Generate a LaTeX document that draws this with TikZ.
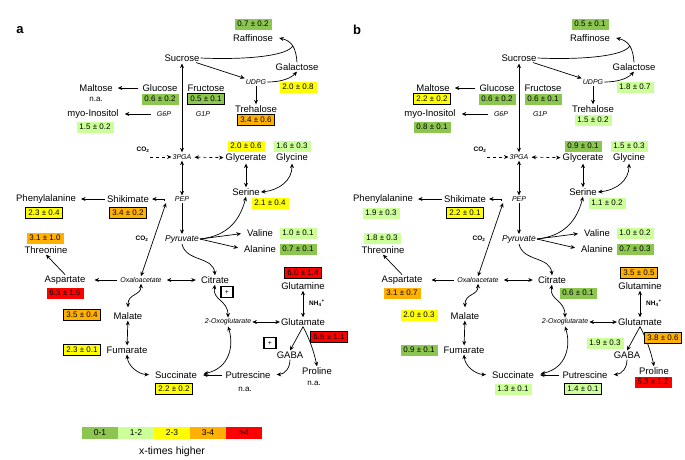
\documentclass[tikz,border=0pt]{standalone}
\usepackage{fontspec}
\setmainfont{Liberation Sans}
\usetikzlibrary{arrows.meta}
\definecolor{cA}{RGB}{140,198,80}
\definecolor{cB}{RGB}{204,255,153}
\definecolor{cC}{RGB}{255,255,0}
\definecolor{cD}{RGB}{255,176,0}
\definecolor{cE}{RGB}{255,0,0}
\tikzset{
 met/.style={font=\fontsize{9.5}{10}\selectfont, inner sep=1pt},
 inter/.style={font=\fontsize{7}{8}\selectfont\itshape, inner sep=1pt},
 pyrs/.style={font=\fontsize{8.5}{9}\selectfont\itshape, inner sep=1pt},
 smb/.style={font=\fontsize{6.5}{7}\selectfont\bfseries, inner sep=0.5pt},
 nalab/.style={font=\fontsize{8}{9}\selectfont, inner sep=1pt},
 val/.style={font=\fontsize{8}{9}\selectfont, fill=#1, minimum width=37pt, minimum height=11pt, inner sep=0pt},
 valb/.style={val=#1, draw=black, line width=1.9pt, minimum width=37pt, minimum height=11pt},
 plusbox/.style={draw, line width=1.7pt, minimum width=12pt, minimum height=11pt, inner sep=0pt, font=\fontsize{7}{8}\selectfont},
 legbox/.style={fill=#1, minimum width=36pt, minimum height=12pt, inner sep=0pt, font=\fontsize{8.5}{9}\selectfont},
 ar/.style={-{Stealth[length=4.5pt,width=4pt]}, line width=0.7pt},
 dar/.style={{Stealth[length=4.5pt,width=4pt]}-{Stealth[length=4.5pt,width=4pt]}, line width=0.7pt},
 panlab/.style={font=\fontsize{13}{14}\selectfont\bfseries, inner sep=0pt},
}
\newcommand\mypanel{%
 \node[met] (suc) at (182,58) {Sucrose};
 \node[met] (raf) at (253,38) {Raffinose};
 \node[met] (gal) at (297,67) {Galactose};
 \node[inter] (udpg) at (256,82) {UDPG};
 \node[met] (glc) at (160,88) {Glucose};
 \node[met] (fru) at (206,88) {Fructose};
 \node[met] (mal) at (96,88) {Maltose};
 \node[met] (myo) at (93,114) {myo-Inositol};
 \node[inter] (g6p) at (164,114) {G6P};
 \node[inter] (g1p) at (203,114) {G1P};
 \node[met] (tre) at (256,109) {Trehalose};
 \node[inter] (pga) at (182,157) {3PGA};
 \node[smb] (co2a) at (143,150) {CO\textsubscript{2}};
 \node[met] (glyc) at (246,158) {Glycerate};
 \node[met] (gly) at (292,158) {Glycine};
 \node[met] (ser) at (246,192) {Serine};
 \node[inter] (pep) at (182,199) {PEP};
 \node[met] (shik) at (128,199) {Shikimate};
 \node[met] (phe) at (46,199) {Phenylalanine};
 \node[pyrs] (pyr) at (182,239) {Pyruvate};
 \node[smb] (co2b) at (142,239) {CO\textsubscript{2}};
 \node[met] (val) at (260,233) {Valine};
 \node[met] (ala) at (260,249) {Alanine};
 \node[met] (thr) at (46,250) {Threonine};
 \node[met] (asp) at (65,280) {Aspartate};
 \node[inter] (oaa) at (141,280) {Oxaloacetate};
 \node[met] (cit) at (215,280) {Citrate};
 \node[met] (gln) at (303,286) {Glutamine};
 \node[inter] (oxo) at (228,322) {2-Oxoglutarate};
 \node[met] (glu) at (303,322) {Glutamate};
 \node[smb] (nh4) at (317,303) {NH\textsubscript{4}\textsuperscript{+}};
 \node[met] (malat) at (128,316) {Malate};
 \node[met] (fum) at (127,350) {Fumarate};
 \node[met] (gaba) at (290,355) {GABA};
 \node[met] (pro) at (317,371) {Proline};
 \node[met] (put) at (248,375) {Putrescine};
 \node[met] (succ) at (176,375) {Succinate};
 \coordinate (hk) at (166,203);
 \coordinate (hs) at (164,201);
 \coordinate (mg) at (292.7,45.8);
 %
 \draw[dar,shorten <=1pt,shorten >=1pt] (suc) -- (pga);
 \draw[ar] (suc) -- (udpg);
 \draw[line width=0.7pt] (suc.east) .. controls (245,60) and (288,56) .. (mg);
 \draw[ar] (gal.north) .. controls (296,48) and (292,41) .. ([xshift=5pt]raf.east);
 \draw[ar] (udpg.east) .. controls (280,82) and (290,79) .. (gal.south);
 \draw[ar] (udpg) -- (tre);
 \draw[ar,shorten <=3pt,shorten >=4pt] (glc) -- (mal);
 \draw[ar,shorten <=5pt,shorten >=5pt] (g6p) -- (myo);
 \draw[ar,dashed] (co2a.south east |- pga) -- (pga.west);
 \draw[dar,dashed,shorten <=2pt,shorten >=1pt] (pga) -- (glyc);
 \draw[dar] (glyc) -- (ser);
 \draw[dar] (gly.south) .. controls (292,180) and (280,190) .. (ser.east);
 \draw[dar] (pga) -- (pep);
 \draw[ar] (pep) -- (pyr);
 \draw[dar] (oaa.north) -- (hk);
 \draw[ar] (hs) |- ([xshift=2pt]shik.east);
 \draw[ar,shorten <=1pt,shorten >=4pt] (shik) -- (phe);
 \draw[ar,shorten >=5pt] (pyr.east) -- (val.west);
 \draw[ar,shorten >=5pt] (pyr.east) -- (ala.west);
 \draw[ar] (pyr.east) .. controls (228,236) and (240,220) .. (ser.south);
 \draw[ar] (pyr.south) .. controls (186,262) and (213,256) .. (cit.north);
 \draw[ar] (asp.north) -- (thr.south);
 \draw[ar,shorten <=2pt,shorten >=8pt] (oaa) -- (asp);
 \draw[dar,shorten <=4pt,shorten >=4pt] (oaa) -- (cit);
 \draw[dar,shorten >=4pt] (oaa.south) .. controls (141,296) and (128,293) .. (malat.north);
 \draw[dar] (malat) -- (fum);
 \draw[dar,shorten >=5pt] (fum.south) .. controls (128,366) and (138,374) .. (succ.west);
 \draw[dar] (cit.south) .. controls (212,300) and (228,300) .. (oxo.north);
 \draw[dar] (oxo) -- (glu);
 \draw[dar] (gln) -- (glu);
 \draw[ar] (glu.south) -- (gaba.north);
 \draw[ar] (glu.south) .. controls (310,340) and (314,352) .. (pro.north);
 \draw[ar,shorten >=5pt] (gaba.south) .. controls (290,368) and (285,374) .. (put.east);
 \draw[ar,shorten <=2pt,shorten >=5pt] (put) -- (succ);
 \draw[dar,shorten <=6pt] (succ.east) .. controls (230,368) and (234,345) .. (oxo.south);
}
\begin{document}
\begin{tikzpicture}[x=1pt,y=-1pt]
\useasboundingbox[fill=white] (0,0) rectangle (685,459);
% ---------- panel a ----------
\begin{scope}[name prefix=a-]
 \node[panlab] (lab) at (20,30) {a};
 \mypanel
 \node[nalab] (na1) at (96,99) {n.a.};
 \node[nalab] (na2) at (314,383) {n.a.};
 \node[nalab] (na3) at (245,389) {n.a.};
 \node[val=cA] (v1) at (253,24) {0.7 ± 0.2};
 \node[val=cC] (v2) at (298,87) {2.0 ± 0.8};
 \node[val=cA] (v3) at (160,99) {0.6 ± 0.2};
 \node[valb=cA] (v4) at (206,99) {0.5 ± 0.1};
 \node[val=cB] (v5) at (95,127) {1.5 ± 0.2};
 \node[valb=cD] (v6) at (256,120) {3.4 ± 0.6};
 \node[val=cC] (v7) at (246,146) {2.0 ± 0.6};
 \node[val=cB] (v8) at (292,146) {1.6 ± 0.3};
 \node[val=cC] (v9) at (270,203) {2.1 ± 0.4};
 \node[valb=cC] (v10) at (44,213) {2.3 ± 0.4};
 \node[valb=cD] (v11) at (128,213) {3.4 ± 0.2};
 \node[val=cD] (v12) at (45,238) {3.1 ± 1.0};
 \node[val=cE] (v13) at (65,293) {6.3 ± 1.9};
 \node[val=cB] (v14) at (298,233) {1.0 ± 0.1};
 \node[val=cA] (v15) at (298,249) {0.7 ± 0.1};
 \node[valb=cE] (v16) at (303,273) {6.0 ± 1.4};
 \node[valb=cD] (v17) at (82,315) {3.5 ± 0.4};
 \node[valb=cC] (v18) at (82,350) {2.3 ± 0.1};
 \node[valb=cC] (v19) at (174,389) {2.2 ± 0.2};
 \node[valb=cE] (v20) at (329,337) {6.8 ± 1.1};
 \node[plusbox] (p1) at (227,292) {+};
 \node[plusbox] (p2) at (270,343) {+};
 % legend
 \node[legbox=cA] (l1) at (100,433) {0-1};
 \node[legbox=cB] (l2) at (136,433) {1-2};
 \node[legbox=cC] (l3) at (172,433) {2-3};
 \node[legbox=cD] (l4) at (208,433) {3-4};
 \node[legbox=cE] (l5) at (244,433) {>4};
 \node[font=\fontsize{10.5}{12}\selectfont] (lt) at (172,452) {x-times higher};
\end{scope}
% ---------- panel b ----------
\begin{scope}[xshift=337pt,name prefix=b-]
 \node[panlab] (lab) at (20,30) {b};
 \mypanel
 \node[val=cA] (v1) at (253,24) {0.5 ± 0.1};
 \node[val=cB] (v2) at (298,87) {1.8 ± 0.7};
 \node[valb=cC] (v0) at (95,99) {2.2 ± 0.2};
 \node[val=cA] (v3) at (160,99) {0.6 ± 0.2};
 \node[val=cA] (v4) at (206,99) {0.6 ± 0.1};
 \node[val=cA] (v5) at (95,127) {0.8 ± 0.1};
 \node[val=cB] (v6) at (256,120) {1.5 ± 0.2};
 \node[val=cA] (v7) at (246,146) {0.9 ± 0.1};
 \node[val=cB] (v8) at (292,146) {1.5 ± 0.3};
 \node[val=cB] (v9) at (270,203) {1.1 ± 0.2};
 \node[val=cB] (v10) at (44,213) {1.9 ± 0.3};
 \node[valb=cC] (v11) at (128,213) {2.2 ± 0.1};
 \node[val=cB] (v12) at (45,238) {1.8 ± 0.3};
 \node[val=cD] (v13) at (65,293) {3.1 ± 0.7};
 \node[val=cB] (v14) at (298,233) {1.0 ± 0.2};
 \node[val=cA] (v15) at (298,249) {0.7 ± 0.3};
 \node[val=cA] (v21) at (241,293) {0.6 ± 0.1};
 \node[valb=cD] (v16) at (302,273) {3.5 ± 0.5};
 \node[val=cC] (v17) at (82,315) {2.0 ± 0.3};
 \node[val=cA] (v18) at (82,350) {0.9 ± 0.1};
 \node[val=cB] (v19) at (176,389) {1.3 ± 0.1};
 \node[valb=cB] (v22) at (246,389) {1.4 ± 0.1};
 \node[val=cB] (v23) at (268,343) {1.9 ± 0.3};
 \node[valb=cD] (v20) at (326,338) {3.8 ± 0.6};
 \node[val=cE] (v24) at (316,382) {5.3 ± 1.2};
\end{scope}
\end{tikzpicture}
\end{document}
